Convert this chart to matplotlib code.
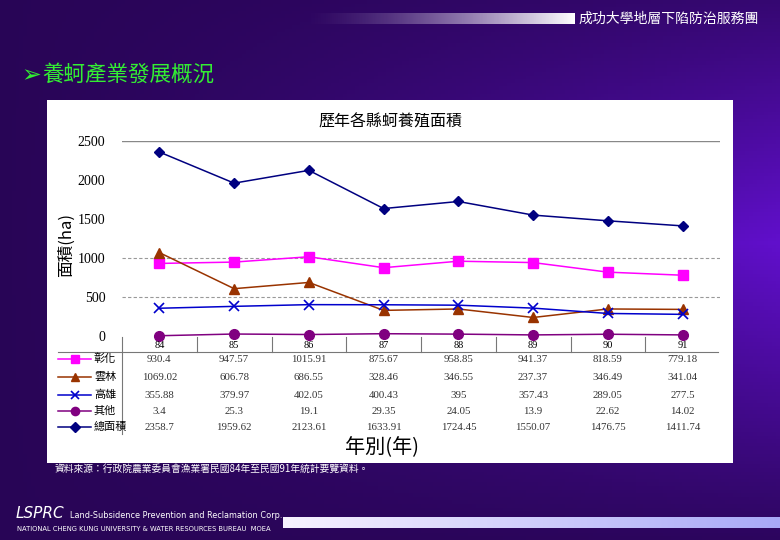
import numpy as np
import matplotlib
matplotlib.use('Agg')
import matplotlib.pyplot as plt
from matplotlib import transforms
from matplotlib.lines import Line2D
from matplotlib.patches import Rectangle

years = ['84', '85', '86', '87', '88', '89', '90', '91']
series_names = ['彰化', '雲林', '高雄', '其他', '總面積']
changhua = [930.4, 947.57, 1015.91, 875.67, 958.85, 941.37, 818.59, 779.18]
yunlin = [1069.02, 606.78, 686.55, 328.46, 346.55, 237.37, 346.49, 341.04]
kaohsiung = [355.88, 379.97, 402.05, 400.43, 395, 357.43, 289.05, 277.5]
others = [3.4, 25.3, 19.1, 29.35, 24.05, 13.9, 22.62, 14.02]
total = [2358.7, 1959.62, 2123.61, 1633.91, 1724.45, 1550.07, 1476.75, 1411.74]
table_text = [
    ['930.4', '947.57', '1015.91', '875.67', '958.85', '941.37', '818.59', '779.18'],
    ['1069.02', '606.78', '686.55', '328.46', '346.55', '237.37', '346.49', '341.04'],
    ['355.88', '379.97', '402.05', '400.43', '395', '357.43', '289.05', '277.5'],
    ['3.4', '25.3', '19.1', '29.35', '24.05', '13.9', '22.62', '14.02'],
    ['2358.7', '1959.62', '2123.61', '1633.91', '1724.45', '1550.07', '1476.75', '1411.74'],
]
y_ticks = [0, 500, 1000, 1500, 2000, 2500]

styles = [
    dict(color='#ff00ff', marker='s', ms=7, mec='#ff00ff'),
    dict(color='#993300', marker='^', ms=7, mec='#993300'),
    dict(color='#0000cc', marker='x', ms=7, mew=1.2),
    dict(color='#800080', marker='o', ms=7),
    dict(color='#000080', marker='D', ms=5.5),
]

CJK = ['Noto Sans CJK TC', 'DejaVu Sans']
SERIF = ['Liberation Serif', 'DejaVu Serif']
W, H = 780, 540


def fx(px):
    return px / W


def fy(py):
    return 1 - py / H


fig = plt.figure(figsize=(7.8, 5.4), dpi=100)

# purple slide background
bg = fig.add_axes([0, 0, 1, 1], zorder=-10)
xx, yy = np.meshgrid(np.linspace(0, 1, 200), np.linspace(0, 1, 150))
t = np.clip(xx ** 1.3 * (1 - np.abs(yy - 0.45) * 1.7), 0, 1)
dark = np.array([0.16, 0.02, 0.34])
bright = np.array([0.38, 0.06, 0.80])
img = dark[None, None, :] + t[:, :, None] * (bright - dark)[None, None, :]
bg.imshow(img, extent=[0, 1, 0, 1], aspect='auto', origin='upper')
# header bar
grad = np.linspace(0, 1, 200)[None, :, None]
bar_top = np.concatenate([np.ones((1, 200, 3)), grad ** 1.5], axis=2)
bg.imshow(bar_top, extent=[fx(300), fx(575), fy(24), fy(13)], aspect='auto')
# footer bar
c0 = np.array([0.97, 0.95, 1.0])
c1 = np.array([0.66, 0.66, 0.97])
bar_bot = c0[None, None, :] + grad * (c1 - c0)[None, None, :]
bg.imshow(bar_bot, extent=[fx(283), 1, fy(528), fy(517)], aspect='auto')
bg.set_xlim(0, 1)
bg.set_ylim(0, 1)
bg.axis('off')

fig.text(fx(578), fy(19), '成功大學地層下陷防治服務團', color='white', fontsize=10,
         family=CJK, va='center')
fig.text(fx(21), fy(75), '➢', color='#33ee33', fontsize=17, family=['DejaVu Sans'], va='center')
fig.text(fx(42), fy(75), '養蚵產業發展概況', color='#33ee33', fontsize=15.5, family=CJK, va='center')

# white chart panel
fig.patches.append(Rectangle((fx(47), fy(463)), fx(733) - fx(47), fy(100) - fy(463),
                             transform=fig.transFigure, facecolor='white', edgecolor='none', zorder=-5))

ax = fig.add_axes([fx(122), fy(336), fx(720) - fx(122), fy(141) - fy(336)])
ax.set_facecolor('none')
x = np.arange(len(years))
data = [changhua, yunlin, kaohsiung, others, total]
for vals, st in zip(data, styles):
    ax.plot(x, vals, lw=1.1, clip_on=False, **st)
ax.set_xlim(-0.5, 7.5)
ax.set_ylim(0, 2500)
ax.set_yticks(y_ticks)
ax.set_yticklabels([str(v) for v in y_ticks], family=SERIF, fontsize=10)
ax.tick_params(axis='y', length=0, pad=12)
ax.set_xticks([])
for v in [500, 1000]:
    ax.axhline(v, color='#999999', lw=0.8, ls=(0, (3, 2)), zorder=0)
ax.axhline(2500, color='#888888', lw=1, zorder=0)
for s in ax.spines.values():
    s.set_visible(False)

fig.text(fx(66), fy(245), '面積(ha)', family=CJK, fontsize=12, rotation=90,
         ha='center', va='center')
fig.text(fx(390), fy(122), '歷年各縣蚵養殖面積', family=CJK, fontsize=11.5, ha='center', va='center')

# data table under the plot
tr = transforms.blended_transform_factory(ax.transData, fig.transFigure)
row_y = [359, 377, 395, 411, 427]
for i, yr in enumerate(years):
    fig.text(i, fy(345), yr, transform=tr, ha='center', va='center', family=SERIF, fontsize=7.5)
for r, row in enumerate(table_text):
    for i, txt in enumerate(row):
        fig.text(i, fy(row_y[r]), txt, transform=tr, ha='center', va='center',
                 family=SERIF, fontsize=7.8, color='#333333')
    st = styles[r]
    fig.lines.append(Line2D([fx(58), fx(91)], [fy(row_y[r])] * 2, transform=fig.transFigure,
                            color=st['color'], lw=1.1))
    fig.lines.append(Line2D([fx(74.5)], [fy(row_y[r])], transform=fig.transFigure,
                            color=st['color'], marker=st['marker'], ms=st['ms'] * 0.85,
                            mew=st.get('mew', 1), ls='none'))
    fig.text(fx(94), fy(row_y[r]), series_names[r], family=CJK, fontsize=8, va='center')
fig.lines.append(Line2D([fx(58), fx(718)], [fy(352)] * 2, transform=fig.transFigure,
                        color='#777777', lw=0.8))
fig.lines.append(Line2D([fx(122)] * 2, [fy(337), fy(434)], transform=fig.transFigure,
                        color='#777777', lw=0.8))
for i in range(len(years) - 1):
    fig.lines.append(Line2D([i + 0.5] * 2, [fy(337), fy(352)], transform=tr,
                            color='#777777', lw=0.8))

fig.text(fx(382), fy(448), '年別(年)', family=CJK, fontsize=14.5, ha='center', va='center')

fig.text(fx(55), fy(469), '資料來源：行政院農業委員會漁業署民國84年至民國91年統計要覽資料。',
         family=CJK, fontsize=7, color='white', va='center')

fig.text(fx(16), fy(514), 'LSPRC', color='white', fontsize=11, style='italic',
         family=['DejaVu Sans'], va='center')
fig.text(fx(70), fy(515), 'Land-Subsidence Prevention and Reclamation Corp.', color='white',
         fontsize=5.9, family=['DejaVu Sans'], va='center')
fig.text(fx(17), fy(529), 'NATIONAL CHENG KUNG UNIVERSITY & WATER RESOURCES BUREAU  MOEA',
         color='white', fontsize=4.9, family=['DejaVu Sans'], va='center')

fig.savefig('out.png', dpi=100)
